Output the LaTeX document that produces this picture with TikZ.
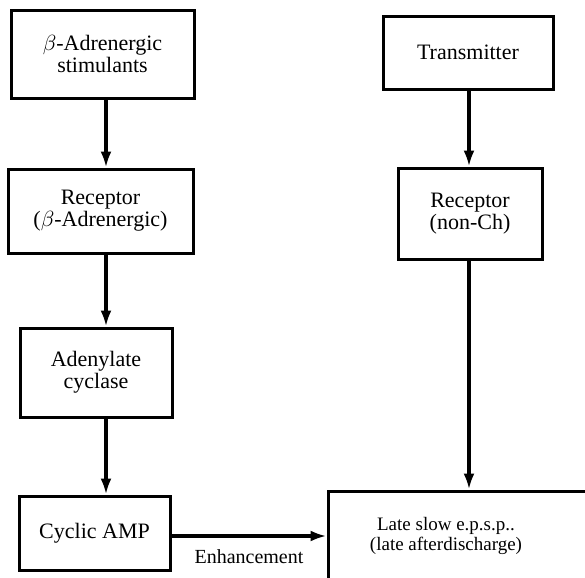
\documentclass[tikz,border=0pt]{standalone}
\usepackage{fontspec}
\setmainfont{Liberation Serif}
\usepackage{tikz}
\usetikzlibrary{arrows.meta}

\begin{document}
\begin{tikzpicture}[x=0.5pt,y=-0.5pt,
	box/.style={draw,line width=1.5pt,inner sep=0pt,align=center,font=\fontsize{11}{8.5}\selectfont},
	arr/.style={line width=1.6pt,-{Latex[length=8pt,width=5.5pt]}}]
	\useasboundingbox (0,0) rectangle (585,578);
	\clip (0,0) rectangle (585,578);
	\coordinate (lcol) at (106,0);
	\coordinate (rcol) at (469,0);
	
	\node[box,minimum width=91.5pt,minimum height=44pt] (stim) at (102.5,54) {$\beta$-Adrenergic\\stimulants};
	\node[box,minimum width=92.5pt,minimum height=42pt] (rec) at (100.5,211) {Receptor\\($\beta$-Adrenergic)};
	\node[box,minimum width=76pt,minimum height=44.5pt] (cyc) at (96,372.5) {Adenylate\\cyclase};
	\node[box,minimum width=75.5pt,minimum height=37pt] (camp) at (94.5,533) {Cyclic AMP};
	
	\node[box,minimum width=85pt,minimum height=36.5pt] (trans) at (468,52.5) {Transmitter};
	\node[box,minimum width=72pt,minimum height=45.5pt] (recnon) at (470,213.5) {Receptor\\(non-Ch)};
	
	\node[box,minimum width=156pt,minimum height=74.5pt] (epspbox) at (484,565.5) {};
	\node[align=center,font=\fontsize{9.5}{8.5}\selectfont] (epsp) at (446,536) {Late slow e.p.s.p..\\(late afterdischarge)};
	
	\draw[arr] (stim.south -| lcol) -- (rec.north -| lcol);
	\draw[arr] (rec.south -| lcol) -- (cyc.north -| lcol);
	\draw[arr] (cyc.south -| lcol) -- (camp.north -| lcol);
	\draw[arr] (trans.south -| rcol) -- (recnon.north -| rcol);
	\draw[arr] (recnon.south -| rcol) -- (epspbox.north -| rcol);
	\draw[arr] ([yshift=-1.5pt]camp.east) -- ([yshift=-1.5pt]camp.east -| epspbox.west)
		node[midway,below=6pt,inner sep=0pt,font=\fontsize{10}{12}\selectfont] (enh) {Enhancement};
\end{tikzpicture}
\end{document}
